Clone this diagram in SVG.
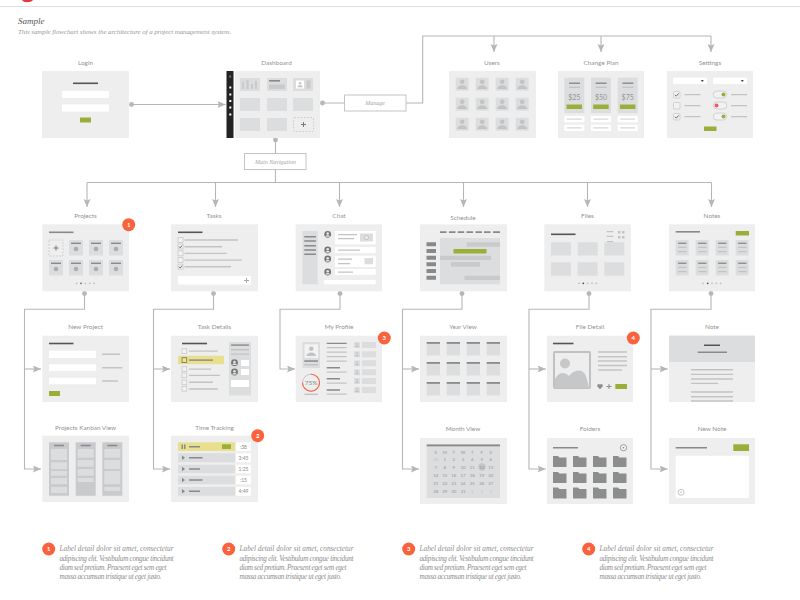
<svg xmlns="http://www.w3.org/2000/svg" width="800" height="600" viewBox="0 0 800 600">
<style>
text{font-family:"Lato","Open Sans",sans-serif}
.lab{font-size:6.4px;fill:#939393;text-anchor:middle}
text.ser,.ser text{font-family:"Liberation Serif","DejaVu Serif",serif;font-style:italic}
.note{font-size:7.2px;fill:#8c8c8c}
.box{font-size:6px;fill:#a6a6a6;text-anchor:middle}
.num{font-size:6px;fill:#fff;text-anchor:middle;font-weight:700}
.pnl{fill:#eeeeee}
.cell{fill:#dcddde}
.mid{fill:#c9cacc}
.wh{fill:#fff}
.grn{fill:#9aae3a}
.ln{fill:#c2c3c5}
.dk{fill:#88898b}
.blk{fill:#555557}
.cal{font-size:4.4px;fill:#969696;text-anchor:middle}
.cal.f{fill:#c4c4c4}
.cb{fill:#f2f2f2;stroke:#c8c9cb;stroke-width:.8}
.ck{fill:none;stroke:#4a4a4a;stroke-width:.8}
.con{fill:none;stroke:#b6b6b6;stroke-width:1.1}
.dot{fill:#b6b6b6}
.lbl{fill:#fff;stroke:#c4c4c4;stroke-width:1}
.dash{fill:none;stroke:#bcbcbc;stroke-width:.7;stroke-dasharray:1.6 1.6}
.pls{fill:none;stroke:#777;stroke-width:1}
.badge{fill:#f9623c}
</style>
<defs>
<marker id="arr" markerUnits="userSpaceOnUse" markerWidth="9" markerHeight="8" refX="8" refY="3.5" orient="auto">
<path d="M0,0L8,3.5L0,7L1.4,3.5Z" fill="#b6b6b6"/>
</marker>
<g id="person"><circle cx="6.500" cy="4" r="2.300" fill="#c2c3c4"/><path d="M1.700,11.200C1.800,8.600 4,8.400 5.400,7.600L7.600,7.600C9,8.400 11.200,8.600 11.300,11.200Z" fill="#c2c3c4"/></g>
<g id="usr"><rect width="13" height="13" class="cell"/><use href="#person"/></g>
<g id="face"><circle r="3.400" fill="#747576"/><circle cy="-.7" r="1.300" fill="#e4e4e4"/><path d="M-2.300,2.400C-2,.9-1,.9 0,.9S2,.9 2.300,2.400Z" fill="#e4e4e4"/></g>
<g id="pcard"><rect width="14" height="15.500" class="cell"/><rect x="2" y="2.600" width="10" height="1.400" class="dk"/><circle cx="7" cy="9" r="2.300" fill="#adaeb0"/></g>
<g id="ncard"><rect width="13" height="15.500" class="cell"/><rect x="2.400" y="2.600" width="8.400" height="1.300" class="dk"/><rect x="2.400" y="6.800" width="8.400" height="1.200" class="ln"/><rect x="2.400" y="11" width="8.400" height="1.200" class="ln"/></g>
<g id="ycard"><rect width="13.300" height="13.500" class="cell"/><rect width="13.300" height="1.800" class="dk"/></g>
<path id="fold" d="M0,0H5L6.500,1.600H13.500V11H0Z" fill="#8c8e8d"/>
<g id="mini"><rect width="6" height="6" class="cell"/><use href="#person" transform="translate(.3 .3) scale(.42)"/></g>
</defs>

<rect width="800" height="600" fill="#fff"/>
<path d="M22,0C23.500,3 31,3 33,0Z" fill="#e2383f"/>
<rect y="6" width="800" height="1" fill="#dfdfe3"/>
<text class="ser" x="18" y="24" font-size="9" fill="#555">Sample</text>
<text class="ser" x="18" y="34" font-size="7" fill="#9a9a9a" textLength="213">This sample flowchart shows the architecture of a project management system.</text>

<g id="connectors">
<path class="con" marker-end="url(#arr)" d="M131.500,104.500H225.500"/>
<path class="con" d="M322.500,103H344M406,103H422.700V36H711"/>
<path class="con" marker-end="url(#arr)" d="M494,36V52"/>
<path class="con" marker-end="url(#arr)" d="M601,36V52"/>
<path class="con" marker-end="url(#arr)" d="M711,36V52"/>
<path class="con" d="M275.500,140V153M275.500,169V182.500M87,182.500H711.500"/>
<path class="con" marker-end="url(#arr)" d="M87,182.500V207"/>
<path class="con" marker-end="url(#arr)" d="M215.500,182.500V207"/>
<path class="con" marker-end="url(#arr)" d="M339.500,182.500V207"/>
<path class="con" marker-end="url(#arr)" d="M463.500,182.500V207"/>
<path class="con" marker-end="url(#arr)" d="M587.500,182.500V207"/>
<path class="con" marker-end="url(#arr)" d="M711.500,182.500V207"/>
<path class="con" d="M84.500,293.500V309.300H24.500V369"/>
<path class="con" marker-end="url(#arr)" d="M24.500,369H41"/>
<path class="con" marker-end="url(#arr)" d="M24.500,369V469H41"/>
<path class="con" d="M213.500,293.500V309.300H153.500V369"/>
<path class="con" marker-end="url(#arr)" d="M153.500,369H170"/>
<path class="con" marker-end="url(#arr)" d="M153.500,369V469H170"/>
<path class="con" marker-end="url(#arr)" d="M340,293.500V309.300H280V369H295"/>
<path class="con" d="M462,293.500V309.300H402.500V369"/>
<path class="con" marker-end="url(#arr)" d="M402.500,369H419"/>
<path class="con" marker-end="url(#arr)" d="M402.500,369V469H419"/>
<path class="con" d="M589,293.500V309.300H529V369"/>
<path class="con" marker-end="url(#arr)" d="M529,369H545.700"/>
<path class="con" marker-end="url(#arr)" d="M529,369V469H545.700"/>
<path class="con" d="M711,293.500V309.300H651V369"/>
<path class="con" marker-end="url(#arr)" d="M651,369H667.700"/>
<path class="con" marker-end="url(#arr)" d="M651,369V469H667.700"/>
<circle class="dot" cx="131.500" cy="104.500" r="2.400"/>
<circle class="dot" cx="322.500" cy="103" r="2.400"/>
<circle class="dot" cx="275.500" cy="140" r="2.400"/>
<circle class="dot" cx="84.500" cy="293.500" r="2.400"/>
<circle class="dot" cx="213.500" cy="293.500" r="2.400"/>
<circle class="dot" cx="340" cy="293.500" r="2.400"/>
<circle class="dot" cx="462" cy="293.500" r="2.400"/>
<circle class="dot" cx="589" cy="293.500" r="2.400"/>
<circle class="dot" cx="711" cy="293.500" r="2.400"/>
</g>

<g id="manage"><rect class="lbl" x="344.500" y="95" width="61.500" height="16"/><text class="box ser" x="375" y="105">Manage</text></g>
<g id="main-navigation"><rect class="lbl" x="244.500" y="153.500" width="61.500" height="16"/><text class="box ser" x="275.500" y="163.500">Main Navigation</text></g>

<g id="login">
<text class="lab" x="85.500" y="64.500">Login</text>
<rect class="pnl" x="42" y="71" width="87" height="67" rx=".8"/>
<rect class="blk" x="73" y="82.500" width="25" height="1.600"/>
<rect class="wh" x="62" y="91" width="47" height="7"/>
<rect class="wh" x="62" y="104.500" width="47" height="7"/>
<rect class="grn" x="80" y="117.500" width="11" height="5"/>
</g>

<g id="dashboard">
<text class="lab" x="276.500" y="64.500">Dashboard</text>
<rect x="226.500" y="71" width="7" height="67" fill="#232323"/>
<rect x="229.300" y="75.500" width="1.600" height="2" fill="#888"/>
<rect class="wh" x="229.300" y="86.500" width="2" height="2"/>
<rect class="wh" x="229.300" y="93.500" width="2" height="2"/>
<rect class="wh" x="229.300" y="100" width="2" height="2"/>
<rect class="wh" x="229.300" y="106.500" width="2" height="2"/>
<rect class="wh" x="229.300" y="113.500" width="2" height="2"/>
<rect class="pnl" x="235" y="71" width="85" height="67"/>
<rect class="cell" x="240" y="78" width="20" height="13"/>
<path class="mid" d="M242,82h2v7h-2zM246.500,80h2v9h-2zM251,84h2v5h-2zM255,81h2v8h-2z"/>
<rect class="cell" x="267" y="78" width="20" height="13"/>
<rect class="dk" x="269" y="80" width="11" height="1.600"/>
<rect class="mid" x="269" y="84.500" width="16" height="4.500"/>
<rect class="cell" x="293" y="78" width="20" height="13"/>
<rect class="wh" x="296" y="80.500" width="8" height="8"/>
<use href="#person" transform="translate(296.500 81) scale(.55)"/>
<rect class="mid" x="306.500" y="80.500" width="4" height="8"/>
<rect class="cell" x="240" y="98" width="20" height="13"/>
<rect class="cell" x="267" y="98" width="20" height="13"/>
<rect class="cell" x="293" y="98" width="20" height="13"/>
<rect class="cell" x="240" y="118" width="20" height="13"/>
<rect class="cell" x="267" y="118" width="20" height="13"/>
<rect class="dash" x="293.500" y="117.500" width="20" height="14" rx="1"/>
<path class="pls" d="M303.500,122V127M301,124.500H306"/>
</g>

<g id="users">
<text class="lab" x="492" y="64.500">Users</text>
<rect class="pnl" x="449" y="71" width="87" height="67"/>
<use href="#usr" x="455.700" y="77.700"/><use href="#usr" x="475.700" y="77.700"/><use href="#usr" x="495.700" y="77.700"/><use href="#usr" x="515.700" y="77.700"/>
<use href="#usr" x="455.700" y="97.700"/><use href="#usr" x="475.700" y="97.700"/><use href="#usr" x="495.700" y="97.700"/><use href="#usr" x="515.700" y="97.700"/>
<use href="#usr" x="455.700" y="117.700"/><use href="#usr" x="475.700" y="117.700"/><use href="#usr" x="495.700" y="117.700"/><use href="#usr" x="515.700" y="117.700"/>
</g>

<g id="change-plan">
<text class="lab" x="601" y="64.500">Change Plan</text>
<rect class="pnl" x="558" y="71" width="86" height="67"/>
<g id="plan-25">
<rect class="cell" x="564.300" y="77.700" width="20" height="35.500"/>
<rect class="dk" x="569" y="82.500" width="11" height="1.400"/>
<rect class="ln" x="569" y="86.700" width="11" height="1.300"/>
<text x="574.300" y="100" font-size="7" fill="#949494" text-anchor="middle">$25</text>
<rect class="grn" x="566.500" y="104.500" width="15.500" height="4.500"/>
</g>
<g id="plan-50">
<rect class="cell" x="591" y="77.700" width="20" height="35.500"/>
<rect class="dk" x="595.700" y="82.500" width="11" height="1.400"/>
<rect class="ln" x="595.700" y="86.700" width="11" height="1.300"/>
<text x="601" y="100" font-size="7" fill="#949494" text-anchor="middle">$50</text>
<rect class="grn" x="593.200" y="104.500" width="15.500" height="4.500"/>
</g>
<g id="plan-75">
<rect class="cell" x="617.700" y="77.700" width="20" height="35.500"/>
<rect class="dk" x="622.400" y="82.500" width="11" height="1.400"/>
<rect class="ln" x="622.400" y="86.700" width="11" height="1.300"/>
<text x="627.700" y="100" font-size="7" fill="#949494" text-anchor="middle">$75</text>
<rect class="grn" x="619.900" y="104.500" width="15.500" height="4.500"/>
</g>
<path class="wh" d="M564.300,116h20v6.300h-20zM591,116h20v6.300h-20zM617.700,116h20v6.300h-20zM564.300,124.700h20v6.300h-20zM591,124.700h20v6.300h-20zM617.700,124.700h20v6.300h-20z"/>
<path fill="#d6d7d9" d="M566.700,118.500h15v1.300h-15zM593.400,118.500h15v1.300h-15zM620.100,118.500h15v1.300h-15zM566.700,127.200h15v1.300h-15zM593.400,127.200h15v1.300h-15zM620.100,127.200h15v1.300h-15z"/>
</g>

<g id="settings">
<text class="lab" x="710" y="64.500">Settings</text>
<rect class="pnl" x="667" y="71" width="86" height="67"/>
<rect class="wh" x="673" y="77.700" width="34" height="6.300"/>
<rect class="wh" x="713" y="77.700" width="34" height="6.300"/>
<path d="M700.800,80H703.800L702.300,82ZM740.800,80H743.800L742.300,82Z" fill="#444"/>
<rect class="cb" x="673.500" y="91.500" width="6.500" height="6.500" rx="1"/>
<path class="ck" d="M675,94.800L676.300,96.200L678.700,93.300"/>
<rect class="cb" x="673.500" y="102.500" width="6.500" height="6.500" rx="1"/>
<rect class="cb" x="673.500" y="113.500" width="6.500" height="6.500" rx="1"/>
<path class="ck" d="M675,116.800L676.300,118.200L678.700,115.300"/>
<path class="ln" d="M684.500,94h16v1.300h-16zM684.500,105h16v1.300h-16zM684.500,116h16v1.300h-16zM731,94h16v1.300h-16zM731,105h16v1.300h-16zM731,116h16v1.300h-16z"/>
<rect class="cb" x="713.300" y="91" width="13.500" height="7" rx="3.500"/>
<circle class="grn" cx="723.500" cy="94.500" r="2"/>
<rect class="cb" x="713.300" y="102" width="13.500" height="7" rx="3.500"/>
<circle cx="716.500" cy="105.500" r="2" fill="#ee5a62"/>
<rect class="cb" x="713.300" y="113" width="13.500" height="7" rx="3.500"/>
<circle class="grn" cx="723.500" cy="116.500" r="2"/>
<rect class="grn" x="704" y="126.500" width="12.500" height="4.500"/>
</g>

<g id="projects">
<text class="lab" x="85.500" y="218">Projects</text>
<rect class="pnl" x="42.300" y="224.300" width="86.700" height="67"/>
<rect class="dk" x="49" y="231.500" width="24.500" height="1.600"/>
<rect class="dash" x="49" y="240" width="14" height="16"/>
<path class="pls" d="M56,245.500V250.500M53.500,248H58.500"/>
<use href="#pcard" x="69" y="240"/><use href="#pcard" x="89" y="240"/><use href="#pcard" x="109" y="240"/>
<use href="#pcard" x="49" y="260"/><use href="#pcard" x="69" y="260"/><use href="#pcard" x="89" y="260"/><use href="#pcard" x="109" y="260"/>
<g fill="#c0c0c2"><circle cx="76.700" cy="283.300" r=".9"/><circle cx="85.300" cy="283.300" r=".9"/><circle cx="89.700" cy="283.300" r=".9"/><circle cx="94" cy="283.300" r=".9"/></g>
<circle cx="81" cy="283.300" r=".9" fill="#6a6a6a"/>
<circle class="badge" cx="128.700" cy="224.700" r="6.500"/><text class="num" x="128.700" y="226.900">1</text>
</g>

<g id="tasks">
<text class="lab" x="214" y="218">Tasks</text>
<rect class="pnl" x="171" y="224.300" width="87" height="67"/>
<rect class="blk" x="178" y="231.500" width="24.500" height="1.600"/>
<rect class="cb" x="178" y="237.500" width="5" height="5"/>
<rect class="cb" x="178" y="244" width="5" height="5"/><path class="ck" d="M179,246.500L180.200,247.800L182,245.500"/>
<rect class="cb" x="178" y="250.800" width="5" height="5"/>
<rect class="cb" x="178" y="257.500" width="5" height="5"/>
<rect class="cb" x="178" y="264.200" width="5" height="5"/><path class="ck" d="M179,266.700L180.200,268L182,265.700"/>
<path class="ln" d="M184.500,239.300H238v1.400H184.500zM184.500,246H222v1.400H184.500zM184.500,252.700H226.700v1.400H184.500zM184.500,259.400H242v1.400H184.500zM184.500,266H231v1.400H184.500z"/>
<rect class="wh" x="178" y="276" width="73" height="8.500"/>
<path class="pls" style="stroke:#a8a8a8" d="M246.500,278V283M244,280.500H249"/>
</g>

<g id="chat">
<text class="lab" x="339" y="218">Chat</text>
<rect class="pnl" x="295.700" y="224.300" width="86.300" height="67"/>
<rect class="cell" x="302.300" y="231" width="15.400" height="53.300"/>
<path class="dk" d="M304.300,236h11.600v1.400h-11.600zM304.300,240.300h11.600v1.400h-11.600zM304.300,245h11.600v1.400h-11.600zM304.300,249.300h11.600v1.400h-11.600zM304.300,253.600h11.600v1.400h-11.600z"/>
<use href="#face" x="327.700" y="234.300"/><use href="#face" x="327.700" y="250"/><use href="#face" x="327.700" y="259"/><use href="#face" x="327.700" y="272"/>
<path class="wh" d="M335,231h40.700v13.300H335zM335,247h40.700v6H335zM335,255.700h40.700V267H335zM335,269h40.700v6H335zM324,280h51.700v4.300H324z"/>
<path class="ln" d="M338,234h19v1.300h-19zM338,238h16v1.300h-16zM338,249.500h22v1.300h-22zM338,258.500h14v1.300h-14zM338,263h12v1.300h-12zM338,271.500h15v1.300h-15z"/>
<rect class="cell" x="360" y="233.500" width="13" height="8"/>
<circle cx="366.500" cy="237.500" r="2" fill="#f0f0f0" stroke="#aaa" stroke-width=".6"/>
<rect class="cell" x="364.500" y="258" width="8.500" height="6.300"/>
</g>

<g id="schedule">
<text class="lab" x="463" y="219.500">Schedule</text>
<rect class="pnl" x="420" y="224.300" width="87" height="67"/>
<path class="dk" d="M440,231.300h6.500v1.600H440zM449,231.300h6.500v1.600H449zM457.700,231.300h6.500v1.600H457.700zM466.500,231.300h6.500v1.600H466.500zM475.500,231.300h6.500v1.600H475.500zM484,231.300h6.500v1.600H484zM493,231.300h7v1.600H493z"/>
<path class="dk" d="M426.500,242.300H436v4H426.500zM426.500,249H436v4H426.500zM426.500,255.700H436v4H426.500zM426.500,262.300H436v4H426.500zM426.500,269H436v4H426.500zM426.500,275.700H436v4H426.500z"/>
<rect class="cell" x="440" y="238" width="60" height="46.300"/>
<path class="mid" d="M466.700,242.300H500v4.400H466.700zM440,255.700H491V260H440zM451,262H480v4.700H451zM464.500,275.700H500V280H464.500z"/>
<rect class="grn" x="453.500" y="249" width="33" height="4.500"/>
</g>

<g id="files">
<text class="lab" x="587.500" y="218">Files</text>
<rect class="pnl" x="544.300" y="224.300" width="86.700" height="67"/>
<rect class="blk" x="551" y="233.500" width="24.500" height="1.600"/>
<path class="ln" d="M606.700,231h6.500v1.200h-6.500zM606.700,235.800h6.500v1.200h-6.500zM606.700,241h6.500v1.200h-6.500z"/>
<path class="ln" d="M618,231h2.500v2.500H618zM622,231h2.500v2.500H622zM618,236h2.500v2.500H618zM622,236h2.500v2.500H622z"/>
<path class="cell" d="M551,242.300h20v13.300h-20zM577.700,242.300h20v13.300h-20zM604.300,242.300h20v13.300h-20zM551,262.300h20v13.400h-20zM577.700,262.300h20v13.400h-20zM604.300,262.300h20v13.400h-20z"/>
<g fill="#c0c0c2"><circle cx="579" cy="283.300" r=".9"/><circle cx="587.700" cy="283.300" r=".9"/><circle cx="592" cy="283.300" r=".9"/><circle cx="596.300" cy="283.300" r=".9"/></g>
<circle cx="583.300" cy="283.300" r=".9" fill="#4a4a4a"/>
</g>

<g id="notes">
<text class="lab" x="712" y="218">Notes</text>
<rect class="pnl" x="669" y="224.300" width="86" height="67"/>
<rect class="dk" x="675.700" y="231" width="24.300" height="1.600"/>
<rect class="grn" x="735.700" y="231" width="13.300" height="4.500"/>
<use href="#ncard" x="675.700" y="240"/><use href="#ncard" x="695.700" y="240"/><use href="#ncard" x="715.700" y="240"/><use href="#ncard" x="735.700" y="240"/>
<use href="#ncard" x="675.700" y="260"/><use href="#ncard" x="695.700" y="260"/><use href="#ncard" x="715.700" y="260"/><use href="#ncard" x="735.700" y="260"/>
<g fill="#c0c0c2"><circle cx="703" cy="283.300" r=".9"/><circle cx="712" cy="283.300" r=".9"/><circle cx="716.300" cy="283.300" r=".9"/><circle cx="720.700" cy="283.300" r=".9"/></g>
<circle cx="707.700" cy="283.300" r=".9" fill="#5a5a5a"/>
</g>

<g id="new-project">
<text class="lab" x="85.500" y="329">New Project</text>
<rect class="pnl" x="42.300" y="335.700" width="86.700" height="66.300"/>
<rect class="blk" x="49" y="342.700" width="24.500" height="1.600"/>
<path class="wh" d="M49,350.700h47V358H49zM49,364.300h47V371H49zM49,377.700h47v6.600H49z"/>
<path class="ln" d="M102,353.600h18V355h-18zM102,367h20.300v1.400H102zM102,380.300h16v1.400h-16z"/>
<rect class="grn" x="49" y="391" width="11" height="5"/>
</g>

<g id="task-details">
<text class="lab" x="214.500" y="329">Task Details</text>
<rect class="pnl" x="171" y="335.700" width="87" height="66.300"/>
<rect class="blk" x="182" y="342.700" width="25" height="1.600"/>
<rect x="178" y="355.700" width="46" height="8.500" fill="#e9e08f"/>
<rect class="cb" x="182" y="348.700" width="4.700" height="4.700"/>
<rect x="182" y="357.700" width="4.700" height="4.700" fill="#eee48e" stroke="#6f6f5f" stroke-width=".8"/>
<rect class="cb" x="182" y="366.700" width="4.700" height="4.700"/>
<rect class="cb" x="182" y="373" width="4.700" height="4.700"/>
<rect class="cb" x="182" y="380" width="4.700" height="4.700"/>
<rect class="cb" x="182" y="386.500" width="4.700" height="4.700"/>
<path class="ln" d="M189,350.400h29v1.400h-29zM189,368.400h22v1.400h-22zM189,374.700h31v1.400h-31zM189,381.600h24v1.400h-24zM189,388.300h29v1.400h-29z"/>
<rect class="dk" x="189" y="359.400" width="24" height="1.400"/>
<rect class="cell" x="229" y="342" width="22" height="53.500"/>
<path class="dk" d="M231,344.400h18v1.400h-18z"/>
<path class="ln" d="M231,349h18v1.400h-18zM231,353.400h18v1.400h-18z"/>
<use href="#face" x="234.500" y="362.700"/><use href="#face" x="234.500" y="372"/>
<path class="wh" d="M241,360h8v6h-8zM241,369h8v6h-8zM231,380h18v7h-18z"/>
</g>

<g id="my-profile">
<text class="lab" x="339" y="329">My Profile</text>
<rect class="pnl" x="295.700" y="335.700" width="86.300" height="66.300"/>
<rect class="cell" x="302.300" y="342" width="17.700" height="26"/>
<rect fill="#f3f3f3" x="304.500" y="344.300" width="13.500" height="13.500"/>
<use href="#person" x="304.800" y="344.800"/>
<path class="dk" d="M304.300,360.300h13.700v1.500h-13.700z"/>
<path class="ln" d="M304.300,364h13.700v1.500h-13.700z"/>
<circle cx="311" cy="382.700" r="8.500" fill="none" stroke="#c8c8ca" stroke-width="1"/>
<path d="M311,374.200A8.500,8.500,0,1,1,302.500,382.700" fill="none" stroke="#f9623c" stroke-width="1.100"/>
<text x="311" y="385" font-size="6.500" fill="#8a8a8a" text-anchor="middle">75%</text>
<rect class="ln" x="304.500" y="393.600" width="13.500" height="1.400"/>
<path class="dk" d="M326.700,342.700h20v1.400h-20zM326.700,367h13.300v1.400h-13.300zM326.700,378h13.300v1.400h-13.300zM326.700,389.300h13.300v1.400h-13.300z"/>
<path class="ln" d="M326.700,347h20v1.300h-20zM326.700,351.400h20v1.300h-20zM326.700,356h20v1.300h-20zM326.700,360.400h20v1.300h-20zM326.700,371.400h20v1.300h-20zM326.700,382.400h20v1.300h-20zM326.700,393.400h20v1.300h-20z"/>
<use href="#mini" x="354" y="342"/><use href="#mini" x="354" y="351.300"/><use href="#mini" x="354" y="360.300"/><use href="#mini" x="354" y="369.300"/><use href="#mini" x="354" y="378"/><use href="#mini" x="354" y="387"/>
<path class="cell" d="M362,342h14v6h-14zM362,351.300h14v6h-14zM362,360.300h14v6h-14zM362,369.300h14v6h-14zM362,378h14v6h-14zM362,387h14v6h-14z"/>
<circle class="badge" cx="384.300" cy="338" r="6.500"/><text class="num" x="384.300" y="340.200">3</text>
</g>

<g id="year-view">
<text class="lab" x="463" y="329">Year View</text>
<rect class="pnl" x="420" y="335.700" width="87" height="66.300"/>
<use href="#ycard" x="426.700" y="342"/><use href="#ycard" x="446.700" y="342"/><use href="#ycard" x="466.700" y="342"/><use href="#ycard" x="486.700" y="342"/>
<use href="#ycard" x="426.700" y="362"/><use href="#ycard" x="446.700" y="362"/><use href="#ycard" x="466.700" y="362"/><use href="#ycard" x="486.700" y="362"/>
<use href="#ycard" x="426.700" y="382"/><use href="#ycard" x="446.700" y="382"/><use href="#ycard" x="466.700" y="382"/><use href="#ycard" x="486.700" y="382"/>
</g>

<g id="file-detail">
<text class="lab" x="590" y="329">File Detail</text>
<rect class="pnl" x="547" y="335.700" width="86" height="66.300"/>
<rect class="blk" x="553" y="342.700" width="20.500" height="1.600"/>
<rect x="554" y="352" width="36" height="36" rx="1" fill="#eeeeee" stroke="#c0c1c3" stroke-width="2"/>
<circle cx="565" cy="363.500" r="5" fill="#c6c7c9"/>
<path d="M555,388V379C559,371 565,372 569,376C573,370 581,368 585,374C587,378 588,383 589,388Z" fill="#c6c7c9"/>
<path class="ln" d="M598,351.300h29v1.400h-29zM598,356h29v1.400h-29zM598,360.300h29v1.400h-29zM598,364.800h29v1.400h-29zM598,369.300h24v1.400h-24z"/>
<path d="M600,389.300L597.400,386.500C596.500,384.500 599,383.200 600,384.800C601,383.200 603.500,384.500 602.600,386.500Z" fill="#8c8d8e"/>
<path class="pls" style="stroke:#8c8d8e" d="M609,384V389M606.500,386.500H611.500"/>
<rect class="grn" x="615.300" y="384" width="11.700" height="5"/>
<circle class="badge" cx="633.300" cy="338" r="6.500"/><text class="num" x="633.300" y="340.200">4</text>
</g>

<g id="note">
<text class="lab" x="712" y="329">Note</text>
<rect class="pnl" x="669" y="335.700" width="86" height="66.300"/>
<rect class="cell" x="669" y="335.700" width="86" height="26.300"/>
<rect class="blk" x="704" y="344.500" width="16" height="1.500"/>
<rect class="dk" x="697.700" y="351.500" width="29.300" height="1.500"/>
<path class="ln" d="M691,369h42v1.400h-42zM691,373.700h42v1.400h-42zM691,378.300h42v1.400h-42zM691,382.700h27v1.400h-27zM691,391.300h42v1.400h-42zM691,396h42v1.400h-42zM691,400.300h42v1.400h-42z"/>
</g>

<g id="projects-kanban-view">
<text class="lab" x="85.500" y="429.500">Projects Kanban View</text>
<rect class="pnl" x="42.300" y="435.700" width="86.700" height="66.300"/>
<path class="mid" d="M49,442.300h20v53.400H49zM75.700,442.300h20v53.400H75.700zM102.300,442.300h20v53.400h-20z"/>
<path class="dk" d="M54,444.700h10v1.500H54zM80.700,444.700h10v1.500H80.700zM107.300,444.700h10v1.500H107.300z"/>
<path class="cell" d="M51,449h16v11H51zM51,462.300h16v7H51zM51,471h16v4.700H51zM51,478h16v6.300H51zM51,487h16v6H51zM77.700,449h16v8.700H77.700zM77.700,460h16v6.700H77.700zM77.700,469h16v6.700H77.700zM77.700,478h16v4H77.700zM104.300,449h16v8.700h-16zM104.300,460h16v9h-16zM104.300,471h16v13.300h-16zM104.300,487h16v4h-16z"/>
</g>

<g id="time-tracking">
<text class="lab" x="214.500" y="429.500">Time Tracking</text>
<rect class="pnl" x="171" y="435.700" width="87" height="66.300"/>
<rect x="178" y="442.300" width="57" height="8.700" fill="#e9e08f"/>
<path class="cell" d="M178,453.300h57v9h-57zM178,464.700h57v8.600h-57zM178,475.700h57v8.600h-57zM178,487h57v8.700h-57z"/>
<path class="wh" d="M236,442.300h15V451h-15zM236,453.300h15v9h-15zM236,464.700h15v8.600h-15zM236,475.700h15v8.600h-15zM236,487h15v8.700h-15z"/>
<path class="dk" d="M181.500,444.500h1.500v4.500h-1.500zM184,444.500h1.500v4.500H184zM189,446h11v1.500h-11zM189,457h13.500v1.500H189zM189,468.200h11v1.500h-11zM189,479.200h13.500v1.500H189zM189,490.500h11v1.500h-11z"/>
<path class="dk" d="M182,455.500L185,457.800L182,460ZM182,466.700L185,469L182,471.200ZM182,477.700L185,480L182,482.200ZM182,489L185,491.300L182,493.500Z"/>
<rect class="grn" x="222" y="444.300" width="9" height="4.700"/>
<g font-size="5" fill="#8a8a8a" text-anchor="middle"><text x="243.500" y="448.500">:38</text><text x="243.500" y="459.800">3:45</text><text x="243.500" y="470.900">1:25</text><text x="243.500" y="481.900">:15</text><text x="243.500" y="493.200">4:49</text></g>
<circle class="badge" cx="257.700" cy="435.700" r="6.500"/><text class="num" x="257.700" y="437.900">2</text>
</g>

<g id="month-view">
<text class="lab" x="463" y="431">Month View</text>
<rect class="pnl" x="420" y="438" width="87" height="66"/>
<rect class="cell" x="426.700" y="444" width="73.300" height="54"/>
<rect class="dk" x="426.700" y="444.500" width="73.300" height="1.800"/>
<circle cx="482" cy="467" r="3.700" fill="#c4c5c7"/>
<text class="cal" x="435.700" y="453.600">S</text><text class="cal" x="444.700" y="453.600">M</text><text class="cal" x="453.700" y="453.600">T</text><text class="cal" x="463" y="453.600">W</text><text class="cal" x="472.300" y="453.600">T</text><text class="cal" x="481.700" y="453.600">F</text><text class="cal" x="490.700" y="453.600">S</text>
<text class="cal f" x="435.700" y="461">30</text><text class="cal" x="444.700" y="461">1</text><text class="cal" x="453.700" y="461">2</text><text class="cal" x="463" y="461">3</text><text class="cal" x="472.300" y="461">4</text><text class="cal" x="481.700" y="461">5</text><text class="cal" x="490.700" y="461">6</text>
<text class="cal" x="435.700" y="468.700">7</text><text class="cal" x="444.700" y="468.700">8</text><text class="cal" x="453.700" y="468.700">9</text><text class="cal" x="463" y="468.700">10</text><text class="cal" x="472.300" y="468.700">11</text><text class="cal" x="481.700" y="468.700">12</text><text class="cal" x="490.700" y="468.700">13</text>
<text class="cal" x="435.700" y="476.700">14</text><text class="cal" x="444.700" y="476.700">15</text><text class="cal" x="453.700" y="476.700">16</text><text class="cal" x="463" y="476.700">17</text><text class="cal" x="472.300" y="476.700">18</text><text class="cal" x="481.700" y="476.700">19</text><text class="cal" x="490.700" y="476.700">20</text>
<text class="cal" x="435.700" y="484.700">21</text><text class="cal" x="444.700" y="484.700">22</text><text class="cal" x="453.700" y="484.700">23</text><text class="cal" x="463" y="484.700">24</text><text class="cal" x="472.300" y="484.700">25</text><text class="cal" x="481.700" y="484.700">26</text><text class="cal" x="490.700" y="484.700">27</text>
<text class="cal" x="435.700" y="492.700">28</text><text class="cal" x="444.700" y="492.700">29</text><text class="cal" x="453.700" y="492.700">30</text><text class="cal" x="463" y="492.700">31</text><text class="cal f" x="472.300" y="492.700">1</text><text class="cal f" x="481.700" y="492.700">2</text><text class="cal f" x="490.700" y="492.700">3</text>
</g>

<g id="folders">
<text class="lab" x="590" y="431">Folders</text>
<rect class="pnl" x="547" y="438" width="86" height="66"/>
<rect class="dk" x="553" y="447" width="25" height="1.500"/>
<circle cx="623.500" cy="447.700" r="3.100" fill="#f5f5f5" stroke="#777" stroke-width=".7"/><circle cx="623.500" cy="447.700" r=".8" fill="#777"/>
<use href="#fold" x="553" y="456"/><use href="#fold" x="573" y="456"/><use href="#fold" x="593" y="456"/><use href="#fold" x="613" y="456"/>
<use href="#fold" x="553" y="472"/><use href="#fold" x="573" y="472"/><use href="#fold" x="593" y="472"/><use href="#fold" x="613" y="472"/>
<use href="#fold" x="553" y="487.500"/><use href="#fold" x="573" y="487.500"/><use href="#fold" x="593" y="487.500"/><use href="#fold" x="613" y="487.500"/>
</g>

<g id="new-note">
<text class="lab" x="712" y="431">New Note</text>
<rect class="pnl" x="669" y="438" width="86" height="66"/>
<rect class="dk" x="675.700" y="447" width="31.300" height="1.500"/>
<rect class="grn" x="733.300" y="444.300" width="15.700" height="6.700"/>
<rect class="wh" x="675.700" y="455.700" width="73.300" height="42.300" rx="1"/>
<circle cx="681" cy="492.300" r="3" fill="#fff" stroke="#aaa" stroke-width=".7"/><circle cx="681" cy="492.300" r=".7" fill="#aaa"/>
</g>

<g id="legend-1">
<circle class="badge" cx="48.700" cy="549" r="6.500"/><text class="num" x="48.700" y="551.200">1</text>
<g class="note ser"><text x="59.500" y="551" textLength="114">Label detail dolor sit amet, consectetur</text><text x="59.500" y="560.500" textLength="114">adipiscing elit. Vestibulum congue tincidunt</text><text x="59.500" y="570" textLength="107">diam sed pretium. Praesent eget sem eget</text><text x="59.500" y="579" textLength="102">massa accumsan tristique ut eget justo.</text></g>
</g>
<g id="legend-2">
<circle class="badge" cx="228.700" cy="549" r="6.500"/><text class="num" x="228.700" y="551.200">2</text>
<g class="note ser"><text x="239.500" y="551" textLength="114">Label detail dolor sit amet, consectetur</text><text x="239.500" y="560.500" textLength="114">adipiscing elit. Vestibulum congue tincidunt</text><text x="239.500" y="570" textLength="107">diam sed pretium. Praesent eget sem eget</text><text x="239.500" y="579" textLength="102">massa accumsan tristique ut eget justo.</text></g>
</g>
<g id="legend-3">
<circle class="badge" cx="408.700" cy="549" r="6.500"/><text class="num" x="408.700" y="551.200">3</text>
<g class="note ser"><text x="419.500" y="551" textLength="114">Label detail dolor sit amet, consectetur</text><text x="419.500" y="560.500" textLength="114">adipiscing elit. Vestibulum congue tincidunt</text><text x="419.500" y="570" textLength="107">diam sed pretium. Praesent eget sem eget</text><text x="419.500" y="579" textLength="102">massa accumsan tristique ut eget justo.</text></g>
</g>
<g id="legend-4">
<circle class="badge" cx="588.700" cy="549" r="6.500"/><text class="num" x="588.700" y="551.200">4</text>
<g class="note ser"><text x="599.500" y="551" textLength="114">Label detail dolor sit amet, consectetur</text><text x="599.500" y="560.500" textLength="114">adipiscing elit. Vestibulum congue tincidunt</text><text x="599.500" y="570" textLength="107">diam sed pretium. Praesent eget sem eget</text><text x="599.500" y="579" textLength="102">massa accumsan tristique ut eget justo.</text></g>
</g>
</svg>
